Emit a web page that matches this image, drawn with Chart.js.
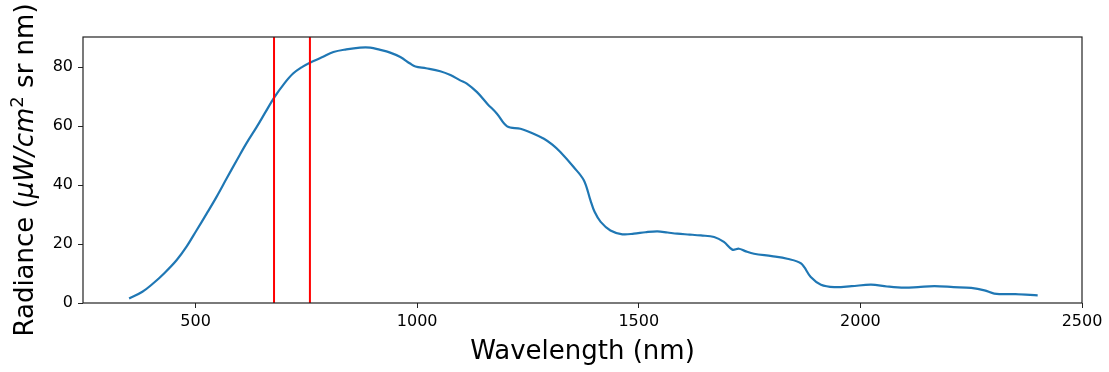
<!DOCTYPE html>
<html>
<head>
<meta charset="utf-8">
<script src="https://cdn.jsdelivr.net/npm/chart.js@4"></script>
<style>
  body { margin: 0; background: #fff; }
  canvas { display: block; }
</style>
</head>
<body>
<canvas id="chart" width="1109" height="372"></canvas>
<script>
// spectrum
const wavelength = [350, 380, 404, 430, 457, 480, 502, 525, 547, 570, 593, 615, 638, 658, 678, 700, 720, 740, 758, 785,
  811, 840, 871, 894, 915, 939, 962, 984, 996, 1020, 1052, 1075, 1097, 1112, 1135, 1158, 1180, 1203, 1233, 1260,
  1286, 1305, 1323, 1353, 1376, 1391, 1400, 1414, 1436, 1463, 1489, 1515, 1542, 1565, 1587, 1615, 1640, 1670, 1692, 1711,
  1726, 1740, 1760, 1800, 1835, 1866, 1888, 1911, 1941, 1980, 2024, 2060, 2099, 2130, 2167, 2210, 2250, 2280, 2302, 2350, 2400];
const radiance = [1.5, 3.8, 6.6, 10.2, 14.5, 19.2, 24.6, 30.3, 35.9, 42.2, 48.4, 54.2, 59.7, 64.8, 69.8, 74.4, 77.8, 80.0, 81.5, 83.3,
  85.1, 86.0, 86.6, 86.6, 85.9, 84.9, 83.4, 81.2, 80.2, 79.6, 78.6, 77.3, 75.5, 74.4, 71.5, 67.6, 64.2, 59.9, 59.1, 57.6,
  55.7, 53.7, 51.2, 46.1, 41.6, 34.8, 31.0, 27.5, 24.6, 23.3, 23.5, 24.0, 24.3, 23.9, 23.5, 23.2, 22.9, 22.4, 20.7, 18.1,
  18.4, 17.6, 16.7, 15.9, 15.0, 13.4, 8.8, 6.2, 5.4, 5.7, 6.2, 5.6, 5.2, 5.4, 5.7, 5.4, 5.1, 4.3, 3.2, 3.0, 2.6];

// red band markers
const bandEdges = [677, 758];

const xTicks = [500, 1000, 1500, 2000, 2500];
const yTicks = [0, 20, 40, 60, 80];
const xMin = 246, xMax = 2500;
const yMin = 0, yMax = 90.2;

const FONT = "'DejaVu Sans', sans-serif";

const spectrum = wavelength.map((w, i) => ({ x: w, y: radiance[i] }));

const vlines = bandEdges.map(w => ({
  data: [{ x: w, y: yMin }, { x: w, y: yMax }],
  borderColor: "#ff0000",
  borderWidth: 2,
  pointRadius: 0,
  tension: 0,
  order: 0,
}));

// box around the plot area
const frame = {
  id: "frame",
  afterDraw(chart) {
    const { ctx, chartArea: a } = chart;
    ctx.save();
    ctx.strokeStyle = "#222";
    ctx.lineWidth = 1.2;
    ctx.strokeRect(a.left, a.top, a.right - a.left, a.bottom - a.top);
    ctx.restore();
  },
};

// y label has italic / superscript parts, so draw it by hand
const yLabel = {
  id: "yLabel",
  afterDraw(chart) {
    const ctx = chart.ctx;
    const a = chart.chartArea;
    const parts = [
      { t: "Radiance (", f: "26px " + FONT, dy: 0 },
      { t: "\u03bcW/cm", f: "italic 26px " + FONT, dy: 0 },
      { t: "2", f: "18px " + FONT, dy: -10 },
      { t: " sr nm)", f: "26px " + FONT, dy: 0 },
    ];
    ctx.save();
    let total = 0;
    parts.forEach(p => { ctx.font = p.f; p.w = ctx.measureText(p.t).width; total += p.w; });
    ctx.translate(33, (a.top + a.bottom) / 2);
    ctx.rotate(-Math.PI / 2);
    ctx.fillStyle = "#000";
    ctx.textBaseline = "alphabetic";
    let x = -total / 2;
    parts.forEach(p => {
      ctx.font = p.f;
      ctx.fillText(p.t, x, p.dy);
      x += p.w;
    });
    ctx.restore();
  },
};

new Chart(document.getElementById("chart"), {
  type: "line",
  data: {
    datasets: [
      {
        data: spectrum,
        borderColor: "#1f77b4",
        borderWidth: 2.2,
        pointRadius: 0,
        tension: 0.35,
        order: 1,
      },
      ...vlines,
    ],
  },
  options: {
    responsive: false,
    animation: false,
    layout: { padding: { top: 37, right: 27, left: 0, bottom: 0 } },
    plugins: { legend: { display: false }, tooltip: { enabled: false } },
    scales: {
      x: {
        type: "linear",
        min: xMin,
        max: xMax,
        afterBuildTicks: s => { s.ticks = xTicks.map(v => ({ value: v })); },
        afterFit: s => { s.height = 69; },
        grid: { drawOnChartArea: false, drawTicks: true, tickLength: 5, color: "#222" },
        border: { display: false },
        ticks: { color: "#000", font: { family: FONT, size: 16 }, padding: 4, maxRotation: 0, callback: v => String(v) },
        title: {
          display: true,
          text: "Wavelength (nm)",
          color: "#000",
          font: { family: FONT, size: 26 },
          padding: { top: 0, bottom: 4 },
        },
      },
      y: {
        min: yMin,
        max: yMax,
        afterBuildTicks: s => { s.ticks = yTicks.map(v => ({ value: v })); },
        afterFit: s => { s.width = 83; },
        grid: { drawOnChartArea: false, drawTicks: true, tickLength: 5, color: "#222" },
        border: { display: false },
        ticks: { color: "#000", font: { family: FONT, size: 16 }, padding: 5, callback: v => String(v) },
      },
    },
  },
  plugins: [frame, yLabel],
});
</script>
</body>
</html>
